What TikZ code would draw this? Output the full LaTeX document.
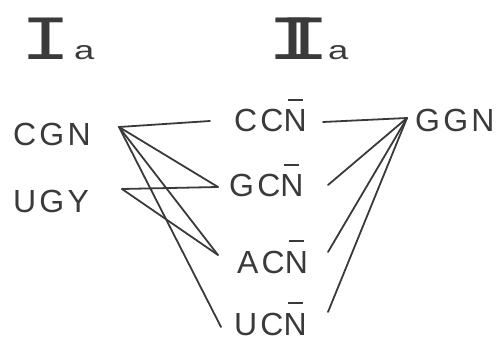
\documentclass[tikz,border=0pt]{standalone}
\usepackage{fontspec}
\setmainfont{Liberation Sans}
\newfontfamily\lbl[LetterSpace=10]{Liberation Sans}
\newfontfamily\monottl{Liberation Mono}
\definecolor{ink}{HTML}{3A3A3A}
\newcommand\nbar{\makebox[0pt][l]{\hspace{4pt}\raisebox{31pt}{\rule{15pt}{1.6pt}}}N}
\tikzset{
  lab/.style={anchor=base west, inner sep=0pt, text=ink, font=\lbl\fontsize{32pt}{32pt}\selectfont},
  ttl/.style={anchor=base west, inner sep=0pt, text=ink},
  link/.style={draw=ink, line width=1.8pt, line cap=round}
}
\begin{document}
\begin{tikzpicture}[x=1pt,y=-1pt]
\useasboundingbox (0,0) rectangle (496,342);
% titles
\node[ttl] (Ia) at (20,60) {\scalebox{1.35}[1]{\monottl\fontsize{63pt}{63pt}\selectfont I}\kern3pt{\fontsize{26pt}{26pt}\selectfont\scalebox{1.4}[1]{a}}};
\node[ttl] (IIa) at (267,60) {\scalebox{1.35}[1]{\monottl\fontsize{63pt}{63pt}\selectfont I\kern-29pt I}\kern-2pt{\fontsize{26pt}{26pt}\selectfont\scalebox{1.4}[1]{a}}};
% labels
\node[lab] (cgn) at (13,146) {CGN};
\node[lab] (ugy) at (13,213) {UGY};
\node[lab] (ccn) at (234,132) {CC\nbar};
\node[lab] (gcn) at (229,197) {GC\nbar};
\node[lab] (acn) at (237,273) {AC\nbar};
\node[lab] (ucn) at (234,335) {UC\nbar};
\node[lab] (ggn) at (415,132) {GGN};
% connector end points
\coordinate (cgnR) at (119,127);
\coordinate (ugyR) at (122,189);
\coordinate (ccnL) at (210,121);
\coordinate (ccnR) at (323,122);
\coordinate (gcnL) at (218,187);
\coordinate (gcnR) at (328,185);
\coordinate (acnL) at (218,255);
\coordinate (acnR) at (328,252);
\coordinate (ucnL) at (221,327);
\coordinate (ucnR) at (328,312);
\coordinate (ggnL) at (407,118);
% connectors
\draw[link] (cgnR) -- (ccnL);
\draw[link] (cgnR) -- (gcnL);
\draw[link] (cgnR) -- (acnL);
\draw[link] (cgnR) -- (ucnL);
\draw[link] (ugyR) -- (gcnL);
\draw[link] (ugyR) -- (acnL);
\draw[link] (ccnR) -- (ggnL);
\draw[link] (gcnR) -- (ggnL);
\draw[link] (acnR) -- (ggnL);
\draw[link] (ucnR) -- (ggnL);
\end{tikzpicture}
\end{document}
